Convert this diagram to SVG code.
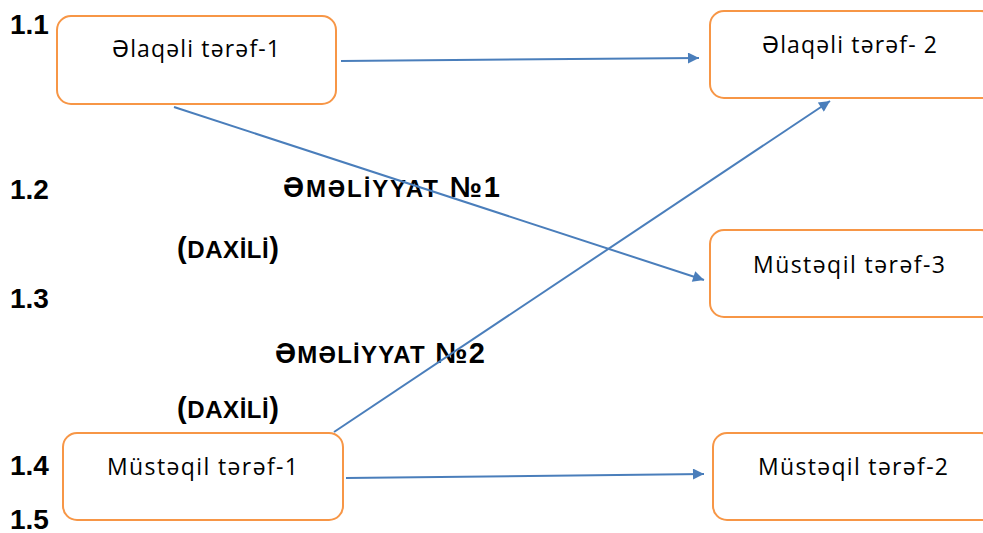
<svg xmlns="http://www.w3.org/2000/svg" width="983" height="533" viewBox="0 0 983 533">
<defs>
<style>
.box{fill:#fff;stroke:#f79646;stroke-width:2}
.nt{font-family:"Open Sans","Noto Sans",sans-serif;font-size:23px;fill:#000}
.num{font-family:"Liberation Sans",Arial,sans-serif;font-weight:bold;font-size:28px;fill:#000}
.op{font-family:"Liberation Sans",Arial,sans-serif;font-weight:bold;font-size:29px;fill:#000}
.sc{font-size:24px}
.conn{stroke:#4a7ebb;stroke-width:2;fill:none;marker-end:url(#ah)}
</style>
<marker id="ah" viewBox="0 0 10 10" refX="10" refY="5" markerWidth="14" markerHeight="11" markerUnits="userSpaceOnUse" orient="auto">
<path d="M0,0 L10,5 L0,10 z" fill="#4a7ebb"/>
</marker>
</defs>
<rect width="983" height="533" fill="#fff"/>
<g id="labels">
<text class="num" x="10" y="34">1.1</text>
<text class="num" x="10" y="199">1.2</text>
<text class="num" x="10" y="308">1.3</text>
<text class="num" x="10" y="475">1.4</text>
<text class="num" x="10" y="529">1.5</text>
<text class="op" x="283" y="197" textLength="217" lengthAdjust="spacing">Ə<tspan class="sc">MƏLİYYAT</tspan> №1</text>
<text class="op" x="177" y="258" textLength="102" lengthAdjust="spacing">(<tspan class="sc">DAXİLİ</tspan>)</text>
<text class="op" x="275" y="363" textLength="210" lengthAdjust="spacing">Ə<tspan class="sc">MƏLİYYAT</tspan> №2</text>
<text class="op" x="177" y="418" textLength="102" lengthAdjust="spacing">(<tspan class="sc">DAXİLİ</tspan>)</text>
</g>
<g id="node-elaqeli-1">
<rect class="box" x="57" y="16" width="279" height="88" rx="14"/>
<text class="nt" x="112" y="57" textLength="168" lengthAdjust="spacing">Əlaqəli tərəf-1</text>
</g>
<g id="node-elaqeli-2">
<rect class="box" x="710" y="11" width="285" height="87" rx="14"/>
<text class="nt" x="762" y="53" textLength="175" lengthAdjust="spacing">Əlaqəli tərəf- 2</text>
</g>
<g id="node-musteqil-3">
<rect class="box" x="710" y="230" width="285" height="87" rx="14"/>
<text class="nt" x="753" y="273" textLength="192" lengthAdjust="spacing">Müstəqil tərəf-3</text>
</g>
<g id="node-musteqil-1">
<rect class="box" x="63" y="433" width="280" height="87" rx="14"/>
<text class="nt" x="107" y="475" textLength="191" lengthAdjust="spacing">Müstəqil tərəf-1</text>
</g>
<g id="node-musteqil-2">
<rect class="box" x="713" y="433" width="282" height="87" rx="14"/>
<text class="nt" x="758" y="475" textLength="190" lengthAdjust="spacing">Müstəqil tərəf-2</text>
</g>
<g id="connectors">
<line class="conn" x1="341" y1="61" x2="699" y2="58"/>
<line class="conn" x1="174" y1="107" x2="704" y2="280"/>
<line class="conn" x1="334" y1="432" x2="830" y2="101"/>
<line class="conn" x1="346" y1="478" x2="704" y2="474"/>
</g>
</svg>
